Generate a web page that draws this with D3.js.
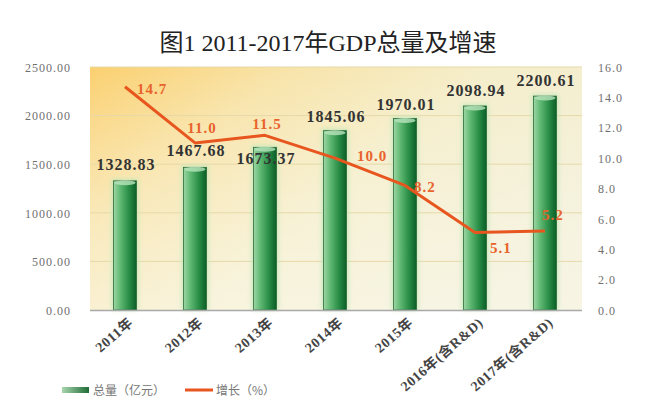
<!DOCTYPE html>
<html><head><meta charset="utf-8">
<script src="https://cdnjs.cloudflare.com/ajax/libs/d3/7.8.5/d3.min.js"></script>
<style>body{margin:0;background:#fff}svg{display:block}</style>
</head><body>
<script>
const categories = ["2011年","2012年","2013年","2014年","2015年","2016年(含R&D)","2017年(含R&D)"];
const gdpValues = [1328.83,1467.68,1673.37,1845.06,1970.01,2098.94,2200.61];
const growthValues = [14.7,11.0,11.5,10.0,8.2,5.1,5.2];
const leftTicks = [0,500,1000,1500,2000,2500];
const rightTicks = [0,2,4,6,8,10,12,14,16];
const title = "图1 2011-2017年GDP总量及增速";
const legendLabels = ["总量（亿元）","增长（%）"];
// label placement offsets (style, not data)
const valueLabelDy = [-11,-11,17,-9,-9,-10,-10];
const growthLabelPos = [[12,7,"start"],[7,-10,"middle"],[2,-6,"middle"],[22,3,"start"],[9,7,"start"],[15,20,"start"],[-3,-11,"start"]];

const W=655,H=413, L=90, R=582, T=67, B=310;
const svg=d3.select("body").append("svg").attr("width",W).attr("height",H);
const defs=svg.append("defs");
const bg=defs.append("linearGradient").attr("id","bg").attr("x1","0").attr("y1","0").attr("x2","1").attr("y2","0.6");
[[0,"#fbd070"],[0.3,"#f8e4aa"],[0.6,"#f5eecb"],[1,"#f3efd6"]].forEach(s=>bg.append("stop").attr("offset",s[0]).attr("stop-color",s[1]));
const bg2=defs.append("linearGradient").attr("id","bg2").attr("x1","0").attr("y1","0").attr("x2","0").attr("y2","1");
bg2.append("stop").attr("offset",0).attr("stop-color","#fff").attr("stop-opacity",0);
bg2.append("stop").attr("offset",1).attr("stop-color","#fff").attr("stop-opacity",0.35);
const bar=defs.append("linearGradient").attr("id","bar").attr("x1","0").attr("x2","1");
[[0,"#9ed6a5"],[0.3,"#5fb872"],[0.65,"#2b8f48"],[1,"#0a5e27"]].forEach(s=>bar.append("stop").attr("offset",s[0]).attr("stop-color",s[1]));
const leg=defs.append("linearGradient").attr("id","leg").attr("x1","0").attr("x2","1");
[[0,"#a9d6ad"],[1,"#1d6b35"]].forEach(s=>leg.append("stop").attr("offset",s[0]).attr("stop-color",s[1]));
const blur=defs.append("filter").attr("id","glow").attr("x","-50%").attr("width","200%");
blur.append("feGaussianBlur").attr("stdDeviation",2);

svg.append("text").attr("x",328).attr("y",51).attr("text-anchor","middle")
  .attr("font-family","'Liberation Serif','DejaVu Serif','Noto Sans CJK SC',serif").attr("font-size",24).attr("fill","#222").text(title);

svg.append("rect").attr("x",L).attr("y",T).attr("width",R-L).attr("height",B-T).attr("fill","url(#bg)");
svg.append("rect").attr("x",L).attr("y",T).attr("width",R-L).attr("height",B-T).attr("fill","url(#bg2)");

const x=d3.scaleBand().domain(categories).range([L,R-2]);
const y=d3.scaleLinear().domain([0,2500]).range([B,T]);
const y2=d3.scaleLinear().domain([0,16]).range([B,T]);
const bw=x.bandwidth()*0.33;

svg.append("g").selectAll("line").data(leftTicks.slice(1)).join("line")
  .attr("x1",L).attr("x2",R).attr("y1",d=>y(d)).attr("y2",d=>y(d)).attr("stroke","#e6d9a8").attr("stroke-width",1);

// axes
const fontAx="'Liberation Serif','DejaVu Serif',serif";
const ga=svg.append("g").attr("transform",`translate(${L-16},0)`).call(d3.axisLeft(y).tickValues(leftTicks).tickSize(0).tickFormat(d3.format(".2f")));
ga.select(".domain").remove();
ga.selectAll("text").attr("font-family",fontAx).attr("font-size",12).attr("fill","#6f6f6f").attr("letter-spacing",1).attr("dy","0.35em");
const gb=svg.append("g").attr("transform",`translate(${R+13},0)`).call(d3.axisRight(y2).tickValues(rightTicks).tickSize(0).tickFormat(d3.format(".1f")));
gb.select(".domain").remove();
gb.selectAll("text").attr("font-family",fontAx).attr("font-size",12).attr("fill","#6f6f6f").attr("letter-spacing",1).attr("dy","0.35em");

// bars
const cx=d=>x(d)+x.bandwidth()/2;
const bars=svg.append("g");
bars.selectAll("rect.g").data(categories).join("rect").attr("class","g")
  .attr("x",d=>cx(d)-bw/2-2).attr("width",bw+4).attr("y",(d,i)=>y(gdpValues[i])-2).attr("height",(d,i)=>B-y(gdpValues[i])+2)
  .attr("fill","#bfe8b8").attr("opacity",0.8).attr("filter","url(#glow)");
bars.selectAll("rect.b").data(categories).join("rect").attr("class","b")
  .attr("x",d=>cx(d)-bw/2).attr("width",bw).attr("y",(d,i)=>y(gdpValues[i])).attr("height",(d,i)=>B-y(gdpValues[i]))
  .attr("fill","url(#bar)").attr("stroke","#2e6b3a").attr("stroke-width",0.8);
bars.selectAll("ellipse").data(categories).join("ellipse")
  .attr("cx",d=>cx(d)).attr("cy",(d,i)=>y(gdpValues[i])+2).attr("rx",bw/2-1).attr("ry",2.5).attr("fill","#b9e3bd").attr("opacity",0.8);

svg.append("line").attr("x1",L).attr("x2",R).attr("y1",B+0.5).attr("y2",B+0.5).attr("stroke","#a9a9a9").attr("stroke-width",1.5);

// value labels
svg.append("g").selectAll("text").data(categories).join("text")
  .attr("x",d=>cx(d)+1).attr("y",(d,i)=>y(gdpValues[i])+valueLabelDy[i]).attr("text-anchor","middle")
  .attr("font-family",fontAx).attr("font-weight","bold").attr("font-size",16).attr("letter-spacing",1).attr("fill","#333")
  .text((d,i)=>d3.format(".2f")(gdpValues[i]));

// line
const line=d3.line().x((d,i)=>cx(categories[i])).y(d=>y2(d));
svg.append("path").datum(growthValues).attr("d",line).attr("fill","none").attr("stroke","#e8561f").attr("stroke-width",3).attr("stroke-linejoin","round");
svg.append("g").selectAll("text").data(growthValues).join("text")
  .attr("x",(d,i)=>cx(categories[i])+growthLabelPos[i][0]).attr("y",(d,i)=>y2(d)+growthLabelPos[i][1])
  .attr("text-anchor",(d,i)=>growthLabelPos[i][2])
  .attr("font-family",fontAx).attr("font-weight","bold").attr("font-size",15).attr("letter-spacing",1).attr("fill","#e8632c")
  .text(d=>d3.format(".1f")(d));

// x labels
svg.append("g").selectAll("text").data(categories).join("text")
  .attr("transform",d=>`translate(${cx(d)+9},${B+14}) rotate(-41)`).attr("text-anchor","end")
  .attr("font-family","'Liberation Serif','Noto Sans CJK SC',serif").attr("font-weight","bold").attr("font-size",14).attr("letter-spacing",0.6).attr("fill","#444")
  .text(d=>d);

// legend
svg.append("rect").attr("x",62).attr("y",387).attr("width",27).attr("height",6).attr("fill","url(#leg)");
svg.append("text").attr("x",93).attr("y",395).attr("font-family","'Noto Sans CJK SC',sans-serif").attr("font-size",12).attr("fill","#777").text(legendLabels[0]);
svg.append("line").attr("x1",185).attr("x2",213).attr("y1",390).attr("y2",390).attr("stroke","#e8561f").attr("stroke-width",3);
svg.append("text").attr("x",216).attr("y",395).attr("font-family","'Noto Sans CJK SC',sans-serif").attr("font-size",12).attr("fill","#777").text(legendLabels[1]);
</script>
</body></html>
